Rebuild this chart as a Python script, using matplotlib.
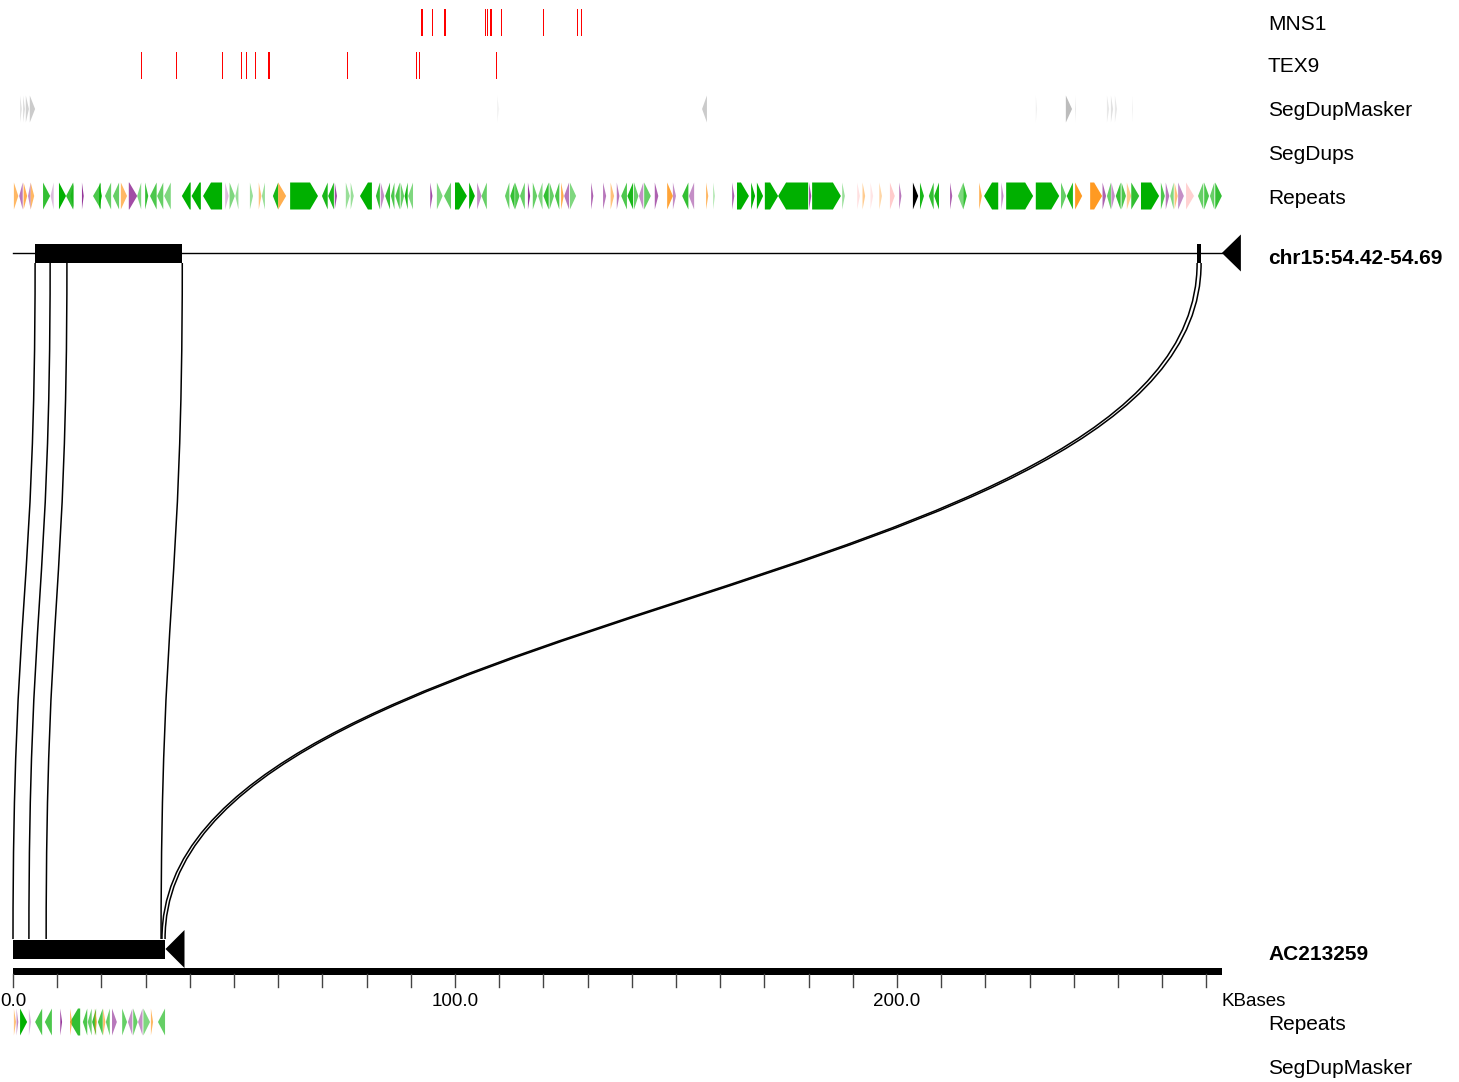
import numpy as np
import matplotlib
matplotlib.use("Agg")
import matplotlib.pyplot as plt
from matplotlib.patches import Polygon, Rectangle, PathPatch
from matplotlib.path import Path

plt.rcParams['font.family'] = ['Liberation Sans', 'DejaVu Sans']

# ---- data (positions in kb) ----
top_name = "chr15:54.42-54.69"
top_len = 273.5
bot_name = "AC213259"
bot_len = 34.5

mns1_pos = [92.5, 94.9, 97.7, 106.9, 107.3, 108.1, 110.5, 120.0, 127.7, 128.6]
mns1_wid = [0.5, 0.25, 0.5, 0.25, 0.25, 0.5, 0.25, 0.25, 0.25, 0.25]
tex9_pos = [29.0, 36.9, 47.3, 51.8, 52.8, 54.8, 57.8, 58.1, 75.7, 91.2, 91.9, 109.3]

# segdupmasker: start, end, strand, alpha
sdm_top = [(1.6, 2.0, 1, .4), (2.3, 2.7, 1, .5), (2.9, 3.6, 1, .6), (3.8, 5.0, 1, .7),
           (109.5, 110.0, 1, .15), (155.9, 157.0, -1, .7), (231.4, 231.7, 1, .2),
           (238.2, 239.6, 1, .9), (240.3, 240.5, 1, .3), (247.5, 248.0, 1, .3),
           (248.4, 248.9, 1, .4), (249.3, 249.8, 1, .3), (253.2, 253.4, 1, .2)]

# repeats: start, end, strand, class, alpha
rep_top = [
    (0.2, 1.2, 1, 'o', .7), (1.4, 2.2, -1, 'p', .6), (2.4, 3.2, 1, 'o', .8), (3.4, 4.0, -1, 'p', .5),
    (4.0, 4.8, 1, 'o', .7), (6.8, 8.4, 1, 'g', .8), (8.5, 9.2, -1, 'p', .3), (10.4, 12.0, 1, 'g', 1),
    (12.0, 13.6, -1, 'g', .8), (13.0, 13.8, -1, 'g', .5), (15.6, 16.0, 1, 'p', .9),
    (18.1, 19.9, -1, 'g', .7), (19.5, 20.1, 1, 'g', 1), (20.8, 22.2, -1, 'g', .6), (22.6, 24.0, -1, 'g', .6),
    (24.4, 25.8, 1, 'o', .7), (26.2, 28.1, 1, 'p', .8), (28.1, 29.0, -1, 'g', .5),
    (29.9, 30.6, 1, 'g', .8), (31.0, 32.5, -1, 'g', .7), (32.6, 34.0, -1, 'g', .6), (34.2, 35.7, -1, 'g', .5),
    (38.2, 40.2, -1, 'g', 1), (40.4, 42.5, -1, 'g', 1), (43.0, 47.3, -1, 'g', 1),
    (48.0, 48.8, 1, 'p', .3), (49.0, 50.2, 1, 'g', .5), (50.3, 51.0, -1, 'g', .4),
    (53.6, 54.3, 1, 'g', .4), (55.6, 56.2, 1, 'o', .6), (56.3, 57.0, -1, 'g', .4),
    (58.8, 60.0, -1, 'g', .9), (60.0, 61.8, 1, 'o', .8), (62.7, 69.0, 1, 'g', 1),
    (69.9, 71.2, -1, 'g', .9), (71.3, 72.6, -1, 'g', .9), (72.8, 73.3, 1, 'p', .8),
    (75.3, 76.2, 1, 'g', .4), (76.4, 77.1, 1, 'g', .4), (78.5, 81.2, -1, 'g', 1),
    (82.1, 83.0, -1, 'g', .8), (83.2, 84.0, 1, 'p', .5), (84.2, 85.3, -1, 'g', .8), (85.5, 86.3, -1, 'g', .7),
    (86.5, 87.5, -1, 'g', .7), (87.7, 88.5, 1, 'g', .6), (88.6, 89.3, -1, 'g', .9), (89.4, 90.5, -1, 'g', .5),
    (94.4, 94.9, 1, 'p', .8), (95.9, 97.2, 1, 'g', .5), (97.5, 99.1, -1, 'g', .6),
    (100.0, 102.7, 1, 'g', 1), (103.2, 104.5, 1, 'g', 1), (105.0, 106.0, 1, 'p', .5), (106.0, 107.2, -1, 'g', .6),
    (111.3, 112.3, -1, 'g', .6), (112.5, 113.5, -1, 'g', .8), (113.6, 114.6, 1, 'g', .7), (114.7, 115.8, -1, 'g', .6),
    (116.5, 117.0, 1, 'p', .9), (117.6, 118.6, 1, 'g', .6), (118.8, 119.8, -1, 'g', .5), (120.0, 121.2, -1, 'g', .8),
    (121.4, 122.4, 1, 'g', .6), (122.6, 123.6, -1, 'g', .7), (124.0, 124.6, 1, 'o', .8), (124.7, 125.8, -1, 'p', .6),
    (126.0, 127.4, 1, 'g', .5), (130.8, 131.3, 1, 'p', .7),
    (133.5, 134.2, 1, 'p', .6), (135.2, 136.0, 1, 'o', .6), (136.6, 137.2, 1, 'p', .6), (137.6, 138.9, -1, 'g', .7),
    (139.0, 140.3, -1, 'g', .9), (140.5, 141.5, 1, 'g', .6), (141.6, 142.6, -1, 'p', .5), (142.8, 144.3, 1, 'g', .6),
    (145.2, 146.0, 1, 'p', .7), (148.0, 149.3, 1, 'o', .9), (149.3, 150.0, 1, 'p', .5),
    (151.4, 152.8, -1, 'g', .8), (152.9, 154.1, -1, 'p', .5), (156.8, 157.3, 1, 'o', .7), (158.4, 158.8, 1, 'g', .3),
    (162.7, 163.2, 1, 'p', .7), (163.8, 166.5, 1, 'g', 1), (167.0, 167.9, 1, 'g', 1), (168.3, 169.7, 1, 'g', 1),
    (170.1, 173.1, 1, 'g', 1), (173.1, 179.9, -1, 'g', 1), (180.1, 180.6, 1, 'p', .8), (180.8, 187.3, 1, 'g', 1),
    (187.6, 188.2, 1, 'g', .4), (191.0, 191.6, 1, 'r', .6), (192.2, 192.8, 1, 'o', .5), (194.0, 194.6, 1, 'r', .5),
    (196.0, 196.6, 1, 'o', .4), (198.4, 199.5, 1, 'r', 1), (200.5, 201.0, 1, 'p', .6), (203.6, 204.8, 1, 'k', 1),
    (205.2, 206.1, 1, 'g', .9), (207.2, 208.3, -1, 'g', .8), (208.4, 209.5, -1, 'g', .9), (212.0, 212.5, 1, 'p', .7),
    (213.8, 215.0, -1, 'g', .5), (215.0, 215.8, 1, 'g', .8), (218.6, 219.2, 1, 'o', .8), (219.7, 222.9, -1, 'g', 1),
    (223.6, 224.1, 1, 'p', .5), (224.7, 230.8, 1, 'g', 1), (231.4, 236.7, 1, 'g', 1), (237.1, 238.3, 1, 'g', .6),
    (238.4, 239.8, -1, 'g', .9), (240.3, 241.9, 1, 'o', 1), (243.7, 246.4, 1, 'o', 1),
    (246.5, 247.3, 1, 'p', .7), (247.5, 248.4, -1, 'g', .6), (248.5, 249.3, 1, 'p', .5), (249.5, 250.6, -1, 'g', .8),
    (250.8, 251.8, 1, 'g', .7), (252.0, 253.0, 1, 'o', .5), (253.0, 254.8, 1, 'g', .8), (255.2, 259.3, 1, 'g', 1),
    (259.7, 260.6, 1, 'g', .7), (260.8, 261.6, 1, 'p', .6), (261.8, 262.6, -1, 'g', .5), (262.8, 263.5, 1, 'o', .6),
    (263.6, 264.9, 1, 'p', .5), (265.4, 267.2, 1, 'r', .9), (268.1, 269.3, -1, 'g', .6), (269.5, 270.6, 1, 'g', .7),
    (270.8, 271.8, -1, 'g', .6), (272.0, 273.5, 1, 'g', .8),
]

rep_bot = [
    (0.2, 0.7, 1, 'o', .6), (0.8, 1.2, 1, 'p', .5), (1.6, 3.2, 1, 'g', 1), (3.6, 4.1, 1, 'p', .3),
    (5.0, 6.6, -1, 'g', .7), (7.2, 8.8, -1, 'g', .7), (10.7, 11.1, 1, 'p', .9), (12.9, 15.2, -1, 'g', .8),
    (12.9, 13.4, 1, 'o', .7), (15.8, 16.8, -1, 'g', .7), (16.9, 17.8, -1, 'g', .6), (17.9, 18.8, -1, 'g', .8),
    (18.5, 19.0, 1, 'o', .7), (19.2, 20.3, -1, 'g', .7), (20.4, 20.9, 1, 'o', .7), (21.0, 21.9, -1, 'g', .6),
    (22.4, 23.5, 1, 'p', .6), (24.7, 25.8, 1, 'g', .6), (26.0, 27.0, -1, 'p', .5), (27.2, 28.2, 1, 'g', .6),
    (28.3, 29.3, -1, 'p', .5), (29.5, 31.0, 1, 'g', .5), (31.2, 31.7, 1, 'o', .7), (32.8, 34.4, -1, 'g', .6),
]

# alignment boxes (kb)
top_boxes = [(5.0, 38.3), (267.9, 268.8)]
bot_boxes = [(0.0, 34.4)]

# connections: top kb -> bottom kb
conn_top = [5.0, 8.4, 12.2, 38.3, 267.9, 268.8]
conn_bot = [0.0, 3.6, 7.5, 33.5, 33.7, 34.4]

tick_step = 10
tick_labels = {0: "0.0", 100: "100.0", 200: "200.0"}

track_names_top = ["MNS1", "TEX9", "SegDupMasker", "SegDups", "Repeats"]
track_names_bot = ["Repeats", "SegDupMasker"]

colors = {'g': '#00b000', 'o': '#ff9a22', 'p': '#8a1f8f', 'r': '#ffcccc', 'k': '#000000'}

# ---- layout (pixel rows, kb along x) ----
PX = 4.42           # pixels per kb
X0 = 13             # pixel of 0 kb
W, H = 1459, 1082

fig = plt.figure(figsize=(W / 100, H / 100), dpi=100)
ax = fig.add_axes([0, 0, 1, 1])
ax.set_xlim(-X0 / PX, (W - X0) / PX)
ax.set_ylim(H, 0)
ax.axis('off')

label_x = (1268 - X0) / PX
top_rows = [22, 65, 109, 153, 196]
bot_rows = [1022, 1066]
half = 13.5
arrow_kb = 1.8
dy_txt = 2  # text baseline nudge


def glyph(s, e, strand, yc, color, alpha, h=half):
    a = min(arrow_kb, e - s)
    if strand > 0:
        pts = [(s, yc - h), (e - a, yc - h), (e, yc), (e - a, yc + h), (s, yc + h)]
    else:
        pts = [(e, yc - h), (s + a, yc - h), (s, yc), (s + a, yc + h), (e, yc + h)]
    ax.add_patch(Polygon(pts, closed=True, fc=color, ec='none', alpha=alpha, lw=0))


# gene tracks
for p, w in zip(mns1_pos, mns1_wid):
    ax.add_patch(Rectangle((p - w / 2, top_rows[0] - half), w, 2 * half, fc='red', ec='none'))
for p in tex9_pos:
    ax.add_patch(Rectangle((p - 0.12, top_rows[1] - half), 0.24, 2 * half, fc='red', ec='none'))

for s, e, st, al in sdm_top:
    glyph(s, e, st, top_rows[2], '#b5b5b5', al)

for s, e, st, c, al in rep_top:
    glyph(s, e, st, top_rows[4], colors[c], al)
for s, e, st, c, al in rep_bot:
    glyph(s, e, st, bot_rows[0], colors[c], al)

# sequences
top_y, bot_y = 253, 949
ax.plot([0, top_len], [top_y, top_y], color='black', lw=1.0)
for s, e in top_boxes:
    ax.add_patch(Rectangle((s, top_y - 9.5), e - s, 19, fc='black', ec='none'))
for s, e in bot_boxes:
    ax.add_patch(Rectangle((s, bot_y - 9.5), e - s, 19, fc='black', ec='none'))

ax.add_patch(Polygon([(top_len, top_y), (top_len + 4.3, top_y - 18.5), (top_len + 4.3, top_y + 18.5)],
                     fc='black', ec='none'))
ax.add_patch(Polygon([(bot_len, bot_y), (bot_len + 4.3, bot_y - 19), (bot_len + 4.3, bot_y + 19)],
                     fc='black', ec='none'))

# connections as cubic beziers
y1, y2 = top_y + 10, bot_y - 10
ym = (y1 + y2) / 2
for t, b in zip(conn_top, conn_bot):
    path = Path([(t, y1), (t, ym), (b, ym), (b, y2)],
                [Path.MOVETO, Path.CURVE4, Path.CURVE4, Path.CURVE4])
    ax.add_patch(PathPatch(path, fc='none', ec='black', lw=1.1))

# scale bar
ax.add_patch(Rectangle((0, 967.5), top_len, 7, fc='black', ec='none'))
for k in range(0, int(top_len) + 1, tick_step):
    ax.plot([k, k], [974, 987], color='#444444', lw=1.0)
for k, lab in tick_labels.items():
    ax.text(k, 1000 + dy_txt, lab, ha='center', va='center', fontsize=13.5)
ax.text(top_len, 1000 + dy_txt, "KBases", ha='left', va='center', fontsize=13.5)

# labels
for name, y in zip(track_names_top, top_rows):
    ax.text(label_x, y + dy_txt, name, ha='left', va='center', fontsize=15)
ax.text(label_x, top_y + 4 + dy_txt, top_name, ha='left', va='center', fontsize=15, fontweight='bold')
ax.text(label_x, bot_y + 4 + dy_txt, bot_name, ha='left', va='center', fontsize=15, fontweight='bold')
for name, y in zip(track_names_bot, bot_rows):
    ax.text(label_x, y + dy_txt, name, ha='left', va='center', fontsize=15)

fig.savefig("out.png", dpi=100, facecolor='white')
